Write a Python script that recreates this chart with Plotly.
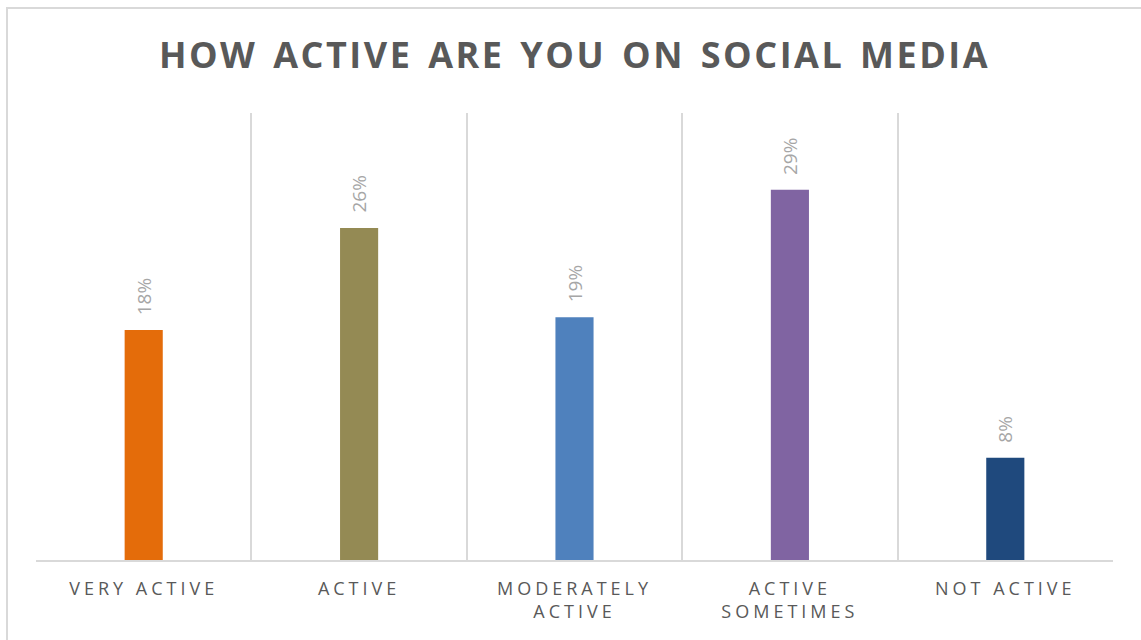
import plotly.graph_objects as go

# Survey results: share of respondents per activity level
categories = ["VERY ACTIVE", "ACTIVE", "MODERATELY<br>ACTIVE", "ACTIVE<br>SOMETIMES", "NOT ACTIVE"]
values = [18, 26, 19, 29, 8]
colors = ["#E46C0A", "#948A54", "#4F81BD", "#8064A2", "#1F497D"]
value_labels = [f"{v}%" for v in values]

GRID = "#D9D9D9"
TEXT = "#595959"
FONT = "Open Sans"

fig = go.Figure(
    go.Bar(
        x=categories,
        y=values,
        marker=dict(color=colors, line=dict(width=0)),
        hoverinfo="skip",
    )
)

# Rotated percentage labels above each bar
for cat, v, lab in zip(categories, values, value_labels):
    fig.add_annotation(
        x=cat, y=v, text=lab, textangle=-90,
        xanchor="center", yanchor="bottom", yshift=13,
        showarrow=False,
        font=dict(family=FONT, size=19, color="#A6A6A6"),
    )

# Thin frame along the top and left of the chart area
fig.add_shape(
    type="rect", xref="paper", yref="paper",
    x0=-29 / 1077, x1=1.2, y0=-0.3, y1=1 + 105 / 447,
    line=dict(color=GRID, width=2), fillcolor="rgba(0,0,0,0)", layer="below",
)

fig.update_layout(
    width=1141, height=640,
    margin=dict(l=36, r=28, t=113, b=80),
    paper_bgcolor="white", plot_bgcolor="white",
    bargap=0.823,
    showlegend=False,
    title=dict(
        text="<b>HOW ACTIVE ARE YOU ON SOCIAL MEDIA</b>",
        x=0.5, xref="paper", xanchor="center",
        y=1 - 55 / 640, yref="container", yanchor="middle",
        font=dict(family=FONT, size=36, color=TEXT),
    ),
    xaxis=dict(
        tickson="boundaries", showgrid=True, gridcolor=GRID, gridwidth=2,
        showline=True, linecolor=GRID, linewidth=2,
        ticks="", ticklabelstandoff=11,
        tickfont=dict(family=FONT, size=18, color=TEXT),
        fixedrange=True,
    ),
    yaxis=dict(
        range=[0, 35], visible=False, showgrid=False, zeroline=False,
        fixedrange=True,
    ),
)

letter_spacing = (
    "var s=document.createElement('style');"
    "s.textContent='.xtick text{letter-spacing:4px}"
    ".gtitle{letter-spacing:2.5px;word-spacing:4px}';"
    "document.head.appendChild(s);"
)

fig.write_html("out.html", config={"displayModeBar": False}, post_script=letter_spacing)
